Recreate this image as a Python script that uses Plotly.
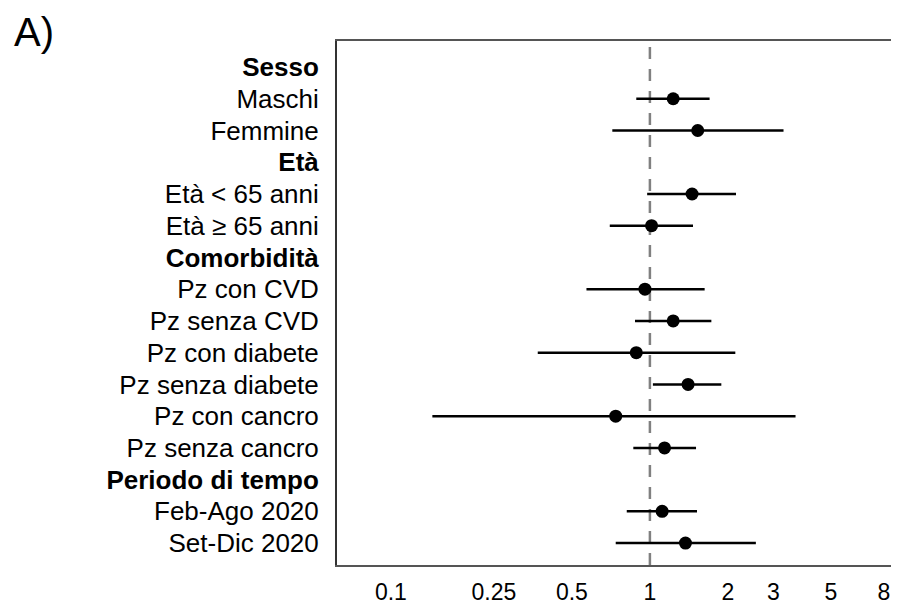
import plotly.graph_objects as go

labels = ["Sesso", "Maschi", "Femmine", "Età", "Età < 65 anni", "Età ≥ 65 anni",
          "Comorbidità", "Pz con CVD", "Pz senza CVD", "Pz con diabete",
          "Pz senza diabete", "Pz con cancro", "Pz senza cancro",
          "Periodo di tempo", "Feb-Ago 2020", "Set-Dic 2020"]
is_header = [True, False, False, True, False, False, True, False, False, False,
             False, False, False, True, False, False]
estimate = [None, 1.23, 1.53, None, 1.455, 1.015, None, 0.957, 1.23, 0.886,
            1.404, 0.738, 1.139, None, 1.115, 1.372]
ci_low = [None, 0.886, 0.716, None, 0.976, 0.700, None, 0.569, 0.876, 0.369,
          1.027, 0.1446, 0.863, None, 0.814, 0.738]
ci_high = [None, 1.70, 3.28, None, 2.15, 1.467, None, 1.627, 1.727, 2.137,
           1.887, 3.65, 1.507, None, 1.52, 2.565]
x_ticks = [0.1, 0.25, 0.5, 1, 2, 3, 5, 8]
x_tick_text = ["0.1", "0.25", "0.5", "1", "2", "3", "5", "8"]

rows = list(range(len(labels)))
pt_rows = [r for r in rows if estimate[r] is not None]
est = [estimate[r] for r in pt_rows]
plus = [ci_high[r] - estimate[r] for r in pt_rows]
minus = [estimate[r] - ci_low[r] for r in pt_rows]

W, H = 891, 598
L, R, T, B = 329, 0, 33, 41
PW, PH = W - L - R, H - T - B

fig = go.Figure()
fig.add_shape(type="line", xref="x", yref="paper", x0=1, x1=1, y0=0, y1=1,
              line=dict(color="#808080", width=2.5, dash="12px,10px"), layer="below")
fig.add_trace(go.Scatter(
    x=est, y=pt_rows, mode="markers",
    marker=dict(color="black", size=13, symbol="circle"),
    error_x=dict(type="data", symmetric=False, array=plus, arrayminus=minus,
                 color="black", thickness=2.5, width=0),
    showlegend=False, hoverinfo="skip"))

tick_text = [f"<b>{l}</b>" if h else l for l, h in zip(labels, is_header)]

fig.update_layout(
    width=W, height=H,
    margin=dict(l=L, r=R, t=T, b=B, pad=0),
    paper_bgcolor="white", plot_bgcolor="white",
    font=dict(family="Liberation Sans, Arial, sans-serif", size=26, color="black"),
    xaxis=dict(type="log", range=[-1.208, 0.954], tickvals=x_ticks,
               ticktext=x_tick_text, showgrid=False, zeroline=False,
               showline=True, mirror=True, linecolor="#555555", linewidth=2,
               ticks="outside", ticklen=5, tickcolor="rgba(0,0,0,0)",
               tickfont=dict(size=23, color="black")),
    yaxis=dict(range=[15.69, -0.82], tickvals=rows, ticktext=tick_text,
               showgrid=False, zeroline=False, showline=True, mirror=True,
               linecolor="#333333", linewidth=2,
               ticks="outside", ticklen=11, tickcolor="rgba(0,0,0,0)",
               tickfont=dict(size=26, color="black")),
    annotations=[dict(text="A)", xref="paper", yref="paper", x=-L / PW, y=1 + T / PH,
                      xanchor="left", yanchor="top", yshift=0, xshift=3,
                      showarrow=False, font=dict(size=40, color="black"))],
)

fig.write_html("out.html")
